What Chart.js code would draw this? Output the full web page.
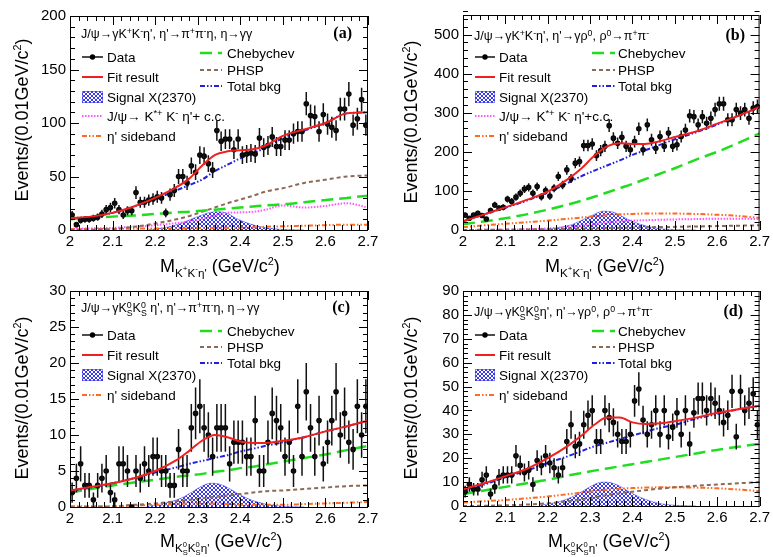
<!DOCTYPE html>
<html>
<head>
<meta charset="utf-8">
<script src="https://cdn.jsdelivr.net/npm/chart.js@4.4.1/dist/chart.umd.min.js"></script>
<style>
  body { margin: 0; background: #fff; width: 773px; height: 557px; position: relative; overflow: hidden; }
  canvas { position: absolute; }
</style>
</head>
<body>
<canvas id="pa" width="386" height="282" style="left:0;top:0"></canvas>
<canvas id="pb" width="387" height="282" style="left:386px;top:0"></canvas>
<canvas id="pc" width="386" height="279" style="left:0;top:278px"></canvas>
<canvas id="pd" width="387" height="279" style="left:386px;top:278px"></canvas>
<script>
// bin centres, 0.01 GeV bins
const binCenters = [2.005,2.015,2.025,2.035,2.045,2.055,2.065,2.075,2.085,2.095,
  2.105,2.115,2.125,2.135,2.145,2.155,2.165,2.175,2.185,2.195,
  2.205,2.215,2.225,2.235,2.245,2.255,2.265,2.275,2.285,2.295,
  2.305,2.315,2.325,2.335,2.345,2.355,2.365,2.375,2.385,2.395,
  2.405,2.415,2.425,2.435,2.445,2.455,2.465,2.475,2.485,2.495,
  2.505,2.515,2.525,2.535,2.545,2.555,2.565,2.575,2.585,2.595,
  2.605,2.615,2.625,2.635,2.645,2.655,2.665,2.675,2.685,2.695];

// x points where the fit curves were read
const curveX = [2.0,2.05,2.1,2.15,2.2,2.25,2.28,2.31,2.34,2.37,2.4,2.43,2.46,2.5,2.55,2.6,2.65,2.7];
const signalX = [2.18,2.22,2.26,2.29,2.31,2.33,2.35,2.37,2.39,2.42,2.46,2.5,2.55];

// (a) K+K-eta', eta'->pi+pi-eta
const countsA = [14,5,9,10,10,11,12,15,19,21,25,19,14,18,18,35,26,26,28,29,
  31,30,16,33,37,50,50,44,60,54,70,69,62,56,93,83,85,85,75,85,
  70,71,72,71,86,77,79,87,78,78,84,84,90,92,92,118,107,106,92,108,
  99,96,93,113,113,127,98,104,122,98];
const fitA   = [11,12.5,16,22,30,40,48,60,70,73.5,74.5,75.5,79,88,94,100,109,110];
const bkgA   = [11,12.5,16,22,29,37,42,47,55,61,67,72,77,86,93,100,109,110];
const chebA  = [10,11.5,12.5,13.5,15,16.5,17,18,19,20,21,22,23,24,26,28,30,32];
const phspA  = [0,0.3,1,3,6,10,13,17,21,25,28.5,32,36,39,44,47,50,51];
const kstarA = [1,1.5,2,3,4.5,6.5,8,10.5,13.5,16,16.5,17,19,23,21,22.5,25,21];
const sideA  = [1,1,1,1.2,1.5,1.5,1.5,1.8,2,2,2.2,2.5,3,3.5,4,4.5,5,5];
const signalA = [0,2,6,11,14,16.5,17,15.5,11,6,2,0.5,0];

// (b) K+K-eta', eta'->gamma rho
const countsB = [38,30,38,43,37,28,50,64,56,58,79,73,84,94,105,109,94,111,85,101,
  87,107,137,115,154,132,171,175,216,216,220,190,203,214,267,235,222,237,214,205,
  226,259,205,269,231,209,239,214,248,214,218,239,256,292,290,269,290,273,286,308,
  323,323,282,282,308,299,308,286,312,316];
const fitB   = [22,40,58,77,98,132,158,190,214,222,220,220,226,238,252,272,292,315];
const bkgB   = [22,40,57,75,96,122,138,152,165,178,192,204,216,232,250,270,292,315];
const chebB  = [15,22,30,40,52,66,75,85,96,107,118,130,142,158,180,200,223,247];
const phspB  = [0,0.5,1,1.5,2,3,3.5,4,4.5,5.5,6,6.5,7.5,8,9,10,11,12];
const kstarB = [0,0.5,1,2,4,8,11,15,19,22,24,25,26,27,28,29,29,28];
const sideB  = [7,12,16,20,24,29,32,35,38,40,41,42,42,42,41,39,36,31];
const signalB = [0,5,15,30,40,48,47,38,27,14,4,1,0];

// (c) KsKs eta', eta'->pi+pi-eta
const countsC = [2,4,6,3,3,1,3,4,5,2,1,6,6,5,0,5,4,6,5,7,
  7,5,5,3,3,8,5,5,11,13,14,11,10,7,11,11,11,6,9,9,
  9,7,7,12,5,5,9,13,12,11,7,9,5,14,7,16,11,7,12,6,
  9,12,16,10,13,9,8,14,10,14];
const fitC   = [2.3,2.8,3.3,4.0,5.0,6.5,7.8,9.2,10.0,9.7,9.1,8.9,8.9,9.2,9.7,10.5,11.2,12];
const bkgC   = [2.2,2.7,3.3,4.0,4.8,5.5,6.0,6.4,6.8,7.2,7.7,8.1,8.5,9.0,9.7,10.5,11.2,12];
const chebC  = [2.0,2.5,3.0,3.4,3.8,4.2,4.4,4.6,4.9,5.1,5.4,5.6,5.9,6.3,6.8,7.3,7.9,8.5];
const phspC  = [0,0,0.1,0.3,0.5,0.8,1.0,1.2,1.4,1.6,1.8,2.0,2.2,2.3,2.5,2.7,2.9,3.0];
const sideC  = [0.1,0.1,0.1,0.2,0.3,0.4,0.5,0.5,0.5,0.4,0.3,0.3,0.3,0.3,0.4,0.5,0.6,0.7];
const signalC = [0.1,0.5,1.2,2.2,2.9,3.3,3.2,2.7,2.0,1.1,0.4,0.1,0];

// (d) KsKs eta', eta'->gamma rho
const countsD = [6,9,7,7,11,13,5,8,12,13,13,13,21,17,14,15,9,19,17,21,
  18,16,13,16,27,34,25,26,34,38,40,27,27,40,37,35,30,27,27,30,
  44,49,36,30,34,40,30,40,29,33,39,30,40,26,39,45,45,40,45,43,
  40,35,38,48,29,48,40,43,47,34];
const fitD   = [7,9.5,12.5,15.5,20,25.5,29.5,34,37,37,35,34.3,34.5,35.5,37,39,40.5,42];
const bkgD   = [6.5,9,12,14.8,18,21,23,25,26.5,28,29.5,31,32.5,34,36.5,38.5,40.5,42];
const chebD  = [5,6.5,8,9.5,11,12.8,13.8,14.8,15.7,16.6,17.5,18.4,19.3,20.5,22,23.5,24.8,26];
const phspD  = [0,0.1,0.3,0.6,1.2,2,2.8,3.6,4.5,5.3,6,6.6,7.2,7.8,8.5,9,9.5,10];
const sideD  = [1.5,2,2.5,3.2,4,5,5.6,6.2,6.8,7.2,7.5,7.7,7.8,7.8,7.7,7.4,6.9,6.2];
const signalD = [0.3,1.5,4,7,9,10,9.7,8.3,6.2,3.5,1.2,0.3,0];

const SANS = '"Liberation Sans", Arial, Helvetica, sans-serif';

const styles = {
  fit:   { color: '#f02020', width: 2,   dash: [] },
  cheb:  { color: '#20dd20', width: 2.5, dash: [12, 6] },
  phsp:  { color: '#8c6a58', width: 2,   dash: [4, 3] },
  bkg:   { color: '#2020e0', width: 2,   dash: [5, 2, 1.5, 2, 1.5, 2] },
  kstar: { color: '#ff55ff', width: 2,   dash: [1.5, 1.5] },
  side:  { color: '#ff6a20', width: 2,   dash: [5, 2, 1.5, 2, 1.5, 2] }
};

const SUP = s => [s, 0.7, -0.35];
const STACK = [['0', 0.7, -0.35, true], ['S', 0.7, 0.3]];

// draw text made of pieces [text, scale, dy(em), noAdvance]
function rich(ctx, parts, x, y, size, family, weight, draw = true) {
  let cx = x;
  for (const p of parts) {
    const [t, sc, dy, stay] = typeof p === 'string' ? [p, 1, 0, false] : p;
    ctx.font = (weight || '') + ' ' + (size * sc) + 'px ' + family;
    if (draw) ctx.fillText(t, cx, y + dy * size);
    if (!stay) cx += ctx.measureText(t).width;
  }
  return cx - x;
}

function makeHatch(ctx) {
  const c = document.createElement('canvas');
  c.width = 4; c.height = 4;
  const g = c.getContext('2d');
  g.strokeStyle = '#3a3ae6';
  g.lineWidth = 1;
  g.beginPath();
  g.moveTo(0, 0); g.lineTo(4, 4);
  g.moveTo(4, 0); g.lineTo(0, 4);
  g.stroke();
  return ctx.createPattern(c, 'repeat');
}

const panelPlugin = {
  id: 'panel',
  afterDatasetDraw(chart, args, opts) {
    const ds = chart.data.datasets[args.index];
    if (ds.label !== 'Data') return;
    const { ctx, chartArea: a, scales: { x, y } } = chart;
    ctx.save();
    ctx.beginPath();
    ctx.rect(a.left, a.top, a.right - a.left, a.bottom - a.top);
    ctx.clip();
    ctx.strokeStyle = '#111';
    ctx.lineWidth = 1.5;
    ctx.beginPath();
    ds.data.forEach(pt => {
      const e = Math.sqrt(pt.y);
      const px = x.getPixelForValue(pt.x), py = y.getPixelForValue(pt.y);
      ctx.moveTo(x.getPixelForValue(pt.x - 0.005), py);
      ctx.lineTo(x.getPixelForValue(pt.x + 0.005), py);
      ctx.moveTo(px, y.getPixelForValue(pt.y - e));
      ctx.lineTo(px, y.getPixelForValue(pt.y + e));
    });
    ctx.stroke();
    ctx.restore();
  },
  afterDraw(chart, args, p) {
    const { ctx, chartArea: a, scales: { x, y } } = chart;
    ctx.save();
    // frame and inward ticks
    ctx.strokeStyle = '#000';
    ctx.lineWidth = 1;
    ctx.strokeRect(a.left + 0.5, a.top + 0.5, a.right - a.left - 1, a.bottom - a.top);
    ctx.beginPath();
    for (let k = 0; k <= 35; k++) {
      const px = Math.round(x.getPixelForValue(2 + k * 0.02)) + 0.5;
      const len = k % 5 === 0 ? 9 : 5;
      ctx.moveTo(px, a.bottom); ctx.lineTo(px, a.bottom - len);
      ctx.moveTo(px, a.top); ctx.lineTo(px, a.top + len);
    }
    const nMinor = Math.round(p.yMax / p.yMinor);
    const per = Math.round(p.yStep / p.yMinor);
    for (let k = 0; k <= nMinor; k++) {
      const py = Math.round(y.getPixelForValue(k * p.yMinor)) + 0.5;
      const len = k % per === 0 ? 9 : 5;
      ctx.moveTo(a.left, py); ctx.lineTo(a.left + len, py);
      ctx.moveTo(a.right, py); ctx.lineTo(a.right - len, py);
    }
    ctx.stroke();

    ctx.fillStyle = '#000';
    ctx.textBaseline = 'alphabetic';
    ctx.textAlign = 'left';
    // axis titles
    rich(ctx, p.xTitle, p.xTitlePos[0], p.xTitlePos[1], 18, SANS);
    const yt = ['Events/(0.01GeV/c', ['2', 0.6, -0.4], ')'];
    const w = rich(ctx, yt, 0, 0, 18, SANS, '', false);
    ctx.save();
    ctx.translate(p.yTitlePos[0], p.yTitlePos[1]);
    ctx.rotate(-Math.PI / 2);
    rich(ctx, yt, -w / 2, 6, 18, SANS);
    ctx.restore();

    // header and tag
    rich(ctx, p.header, p.headerPos[0], p.headerPos[1], 12.5, SANS);
    ctx.textAlign = 'right';
    ctx.font = 'bold 16px "Liberation Serif", "Times New Roman", serif';
    ctx.fillText(p.tag, p.tagPos[0], p.tagPos[1]);
    ctx.textAlign = 'left';

    // legend
    p.legend.forEach(en => {
      const [x0, x1, tx] = en.col === 1 ? p.col1 : p.col2;
      const yy = en.y;
      ctx.save();
      if (en.kind === 'data') {
        ctx.strokeStyle = '#000'; ctx.lineWidth = 1.4;
        ctx.beginPath(); ctx.moveTo(x0, yy); ctx.lineTo(x1, yy); ctx.stroke();
        ctx.fillStyle = '#000';
        ctx.beginPath(); ctx.arc((x0 + x1) / 2, yy, 2.7, 0, Math.PI * 2); ctx.fill();
      } else if (en.kind === 'signal') {
        ctx.fillStyle = p.pattern;
        ctx.fillRect(x0, yy - 6, x1 - x0, 12);
        ctx.strokeStyle = 'rgba(60,60,230,0.6)'; ctx.lineWidth = 1;
        ctx.strokeRect(x0 + 0.5, yy - 5.5, x1 - x0 - 1, 11);
      } else {
        const st = styles[en.kind];
        ctx.strokeStyle = st.color; ctx.lineWidth = st.width; ctx.setLineDash(st.dash);
        ctx.beginPath(); ctx.moveTo(x0, yy); ctx.lineTo(x1, yy); ctx.stroke();
      }
      ctx.restore();
      ctx.fillStyle = '#000';
      rich(ctx, en.text, tx, yy + 5, 13.5, SANS);
    });
    ctx.restore();
  }
};

function makePanel(p) {
  const canvas = document.getElementById(p.id);
  const W = canvas.width, H = canvas.height;
  const ctx = canvas.getContext('2d');
  p.pattern = makeHatch(ctx);
  const pts = (xs, ys) => xs.map((v, i) => ({ x: v, y: ys[i] }));
  const line = (label, ys, st, order) => ({
    type: 'line', label, data: pts(curveX, ys), borderColor: st.color,
    borderWidth: st.width, borderDash: st.dash, pointRadius: 0, fill: false,
    cubicInterpolationMode: 'monotone', order
  });
  const datasets = [
    { type: 'scatter', label: 'Data', data: pts(binCenters, p.counts), pointRadius: 2.8,
      pointBackgroundColor: '#000', pointBorderWidth: 0, order: 3 },
    line('Fit result', p.fit, styles.fit, 1),
    line('Total bkg', p.bkg, styles.bkg, 4),
    line('Chebychev', p.cheb, styles.cheb, 5),
    line('PHSP', p.phsp, styles.phsp, 6),
    line('sideband', p.side, styles.side, 8),
    { type: 'line', label: 'Signal', data: pts(signalX, p.signal), fill: 'origin',
      backgroundColor: p.pattern, borderColor: 'rgba(60,60,230,0.5)', borderWidth: 1,
      pointRadius: 0, cubicInterpolationMode: 'monotone', order: 9 }
  ];
  if (p.kstar) datasets.push(line('Kstar', p.kstar, styles.kstar, 7));

  const tickFont = { family: SANS, size: 15 };
  new Chart(ctx, {
    type: 'scatter',
    data: { datasets },
    options: {
      responsive: false,
      animation: false,
      devicePixelRatio: 1,
      layout: { padding: { top: p.area.top, right: W - p.area.right, left: 0, bottom: 0 } },
      plugins: { legend: { display: false }, tooltip: { enabled: false }, panel: p },
      scales: {
        x: {
          type: 'linear', min: 2, max: 2.7,
          grid: { display: false, drawTicks: false }, border: { display: false },
          ticks: { stepSize: 0.1, includeBounds: false, padding: 3, color: '#000', font: tickFont,
                   maxRotation: 0, autoSkip: false, callback: v => String(+v.toFixed(2)) },
          afterFit: s => { s.height = H - p.area.bottom; }
        },
        y: {
          min: 0, max: p.yMax,
          grid: { display: false, drawTicks: false }, border: { display: false },
          ticks: { stepSize: p.yStep, includeBounds: false, padding: 4, color: '#000', font: tickFont,
                   callback: v => String(+v.toFixed(2)) },
          afterFit: s => { s.width = p.area.left; }
        }
      }
    },
    plugins: [panelPlugin]
  });
}

const titleKK = ['M', ['K', 0.65, 0.3], ['+', 0.45, -0.05], ['K', 0.65, 0.3], ['-', 0.45, -0.05],
  ["η'", 0.65, 0.3], ' (GeV/c', ['2', 0.6, -0.4], ')'];
const titleKsKs = ['M', ['K', 0.65, 0.3], ['0', 0.42, 0, true], ['S', 0.42, 0.45],
  ['K', 0.65, 0.3], ['0', 0.42, 0, true], ['S', 0.42, 0.45], ["η'", 0.65, 0.3],
  ' (GeV/c', ['2', 0.6, -0.4], ')'];

const legendTop = (kstarText) => [
  { col: 1, y: 57, kind: 'data', text: ['Data'] },
  { col: 1, y: 77, kind: 'fit', text: ['Fit result'] },
  { col: 1, y: 97, kind: 'signal', text: ['Signal X(2370)'] },
  { col: 1, y: 116, kind: 'kstar', text: kstarText },
  { col: 1, y: 136, kind: 'side', text: ["η' sideband"] },
  { col: 2, y: 53, kind: 'cheb', text: ['Chebychev'] },
  { col: 2, y: 70, kind: 'phsp', text: ['PHSP'] },
  { col: 2, y: 86, kind: 'bkg', text: ['Total bkg'] }
];
const legendBottom = [
  { col: 1, y: 57, kind: 'data', text: ['Data'] },
  { col: 1, y: 77, kind: 'fit', text: ['Fit result'] },
  { col: 1, y: 97, kind: 'signal', text: ['Signal X(2370)'] },
  { col: 1, y: 117, kind: 'side', text: ["η' sideband"] },
  { col: 2, y: 53, kind: 'cheb', text: ['Chebychev'] },
  { col: 2, y: 69, kind: 'phsp', text: ['PHSP'] },
  { col: 2, y: 85, kind: 'bkg', text: ['Total bkg'] }
];

makePanel({
  id: 'pa', area: { left: 70, right: 368, top: 16, bottom: 230 },
  yMax: 200, yStep: 50, yMinor: 10,
  counts: countsA, fit: fitA, bkg: bkgA, cheb: chebA, phsp: phspA, kstar: kstarA, side: sideA, signal: signalA,
  header: ['J/ψ→γK', SUP('+'), 'K', SUP('-'), "η', η'→π", SUP('+'), 'π', SUP('-'), 'η, η→γγ'],
  headerPos: [81, 38], tag: '(a)', tagPos: [352, 38],
  xTitle: titleKK, xTitlePos: [160, 272], yTitlePos: [22, 120],
  col1: [82, 103, 107], col2: [200, 222, 227],
  legend: legendTop(['J/ψ→ K', ['*+', 0.7, -0.35], ' K', SUP('-'), " η'+ c.c."])
});

makePanel({
  id: 'pb', area: { left: 77, right: 375, top: 15, bottom: 230 },
  yMax: 550, yStep: 100, yMinor: 20,
  counts: countsB, fit: fitB, bkg: bkgB, cheb: chebB, phsp: phspB, kstar: kstarB, side: sideB, signal: signalB,
  header: ['J/ψ→γK', SUP('+'), 'K', SUP('-'), "η', η'→γρ", SUP('0'), ', ρ', SUP('0'), '→π', SUP('+'), 'π', SUP('-')],
  headerPos: [88, 40], tag: '(b)', tagPos: [359, 40],
  xTitle: titleKK, xTitlePos: [159, 272], yTitlePos: [25, 122],
  col1: [89, 109, 113], col2: [206, 229, 232],
  legend: legendTop(['J/ψ→ K', ['*+', 0.7, -0.35], ' K', SUP('-'), " η'+c.c."])
});

makePanel({
  id: 'pc', area: { left: 70, right: 368, top: 13, bottom: 229 },
  yMax: 30, yStep: 5, yMinor: 1,
  counts: countsC, fit: fitC, bkg: bkgC, cheb: chebC, phsp: phspC, side: sideC, signal: signalC,
  header: ['J/ψ→γK', ...STACK, 'K', ...STACK, " η', η'→π", SUP('+'), 'π', SUP('-'), 'η, η→γγ'],
  headerPos: [81, 34], tag: '(c)', tagPos: [350, 34],
  xTitle: titleKsKs, xTitlePos: [160, 269], yTitlePos: [22, 120],
  col1: [82, 103, 107], col2: [200, 222, 227],
  legend: legendBottom
});

makePanel({
  id: 'pd', area: { left: 77, right: 375, top: 13, bottom: 228 },
  yMax: 90, yStep: 10, yMinor: 2,
  counts: countsD, fit: fitD, bkg: bkgD, cheb: chebD, phsp: phspD, side: sideD, signal: signalD,
  header: ['J/ψ→γK', ...STACK, 'K', ...STACK, "η', η'→γρ", SUP('0'), ', ρ', SUP('0'), '→π', SUP('+'), 'π', SUP('-')],
  headerPos: [88, 38], tag: '(d)', tagPos: [357, 38],
  xTitle: titleKsKs, xTitlePos: [162, 269], yTitlePos: [25, 120],
  col1: [89, 109, 113], col2: [206, 229, 232],
  legend: legendBottom
});
</script>
</body>
</html>
